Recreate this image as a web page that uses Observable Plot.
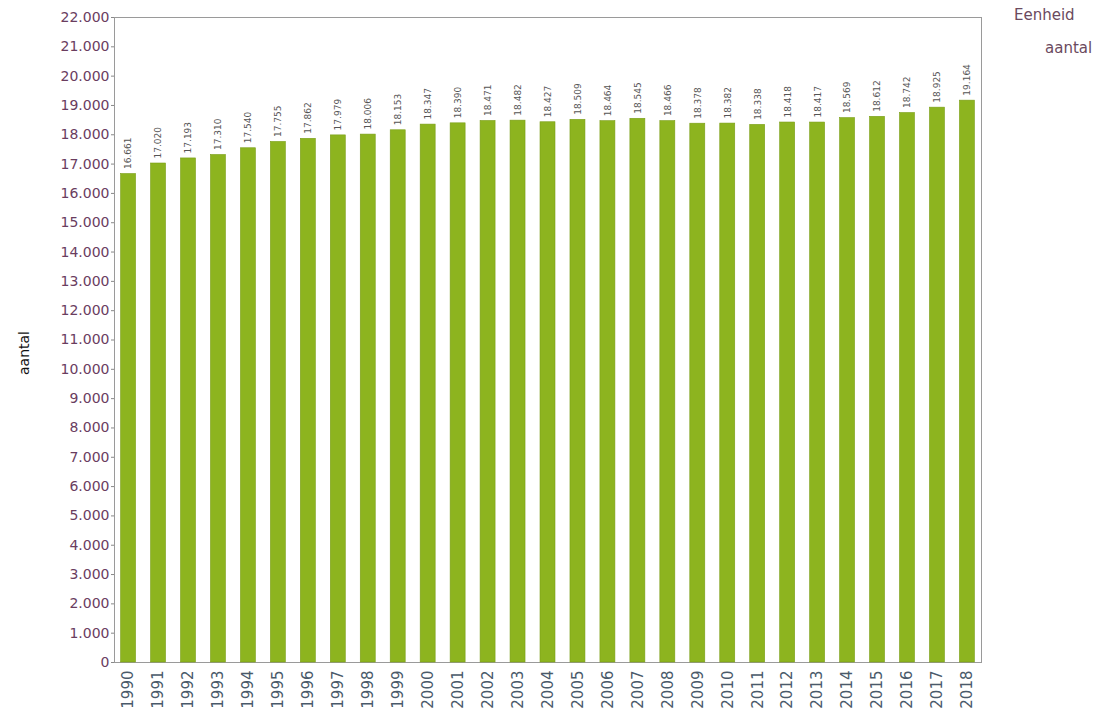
<!DOCTYPE html>
<html><head><meta charset="utf-8">
<script src="https://cdn.jsdelivr.net/npm/d3@7"></script>
<script src="https://cdn.jsdelivr.net/npm/@observablehq/plot@0.6"></script>
<style>
body{margin:0;background:#fff;font-family:"DejaVu Sans",Verdana,sans-serif;}
#wrap{position:relative;width:1100px;height:724px;}
.lab{position:absolute;color:#6b4a5e;font-size:15px;}
</style></head>
<body><div id="wrap"></div>
<script>
const years = ["1990","1991","1992","1993","1994","1995","1996","1997","1998","1999","2000","2001","2002","2003","2004","2005","2006","2007","2008","2009","2010","2011","2012","2013","2014","2015","2016","2017","2018"];
const values = [16661,17020,17193,17310,17540,17755,17862,17979,18006,18153,18347,18390,18471,18482,18427,18509,18464,18545,18466,18378,18382,18338,18418,18417,18569,18612,18742,18925,19164];
const yTicks = d3.range(0, 22001, 1000);

const data = years.map((y,i)=>({year:y, value:values[i]}));
const fmt = v => d3.format(",")(v).replace(/,/g,".");

const chart = Plot.plot({
  width: 1100, height: 724,
  marginLeft: 114, marginRight: 119, marginTop: 17, marginBottom: 62,
  style: {fontFamily: '"DejaVu Sans", Verdana, sans-serif', fontSize: "14px", background: "#fff"},
  x: {domain: years, paddingInner: 0.5, paddingOuter: 0.22, round: false, label: null},
  y: {domain: [0, 22000], label: null},
  marks: [
    Plot.frame({stroke: "#9a9a9a"}),
    Plot.barY(data, {x: "year", y: "value", fill: "#8db41f", stroke: "#7a9e16", strokeWidth: 0.6}),
    Plot.text(data, {x: "year", y: "value", text: d => fmt(d.value), rotate: -90, textAnchor: "start", dy: -5, fontSize: 9, fill: "#555"}),
    Plot.axisY({ticks: yTicks, tickFormat: fmt, tickSize: 3, tickPadding: 2, fill: "#6a3d5f", stroke: "#888", fontSize: 14}),
    Plot.axisX({tickRotate: -90, tickSize: 0, tickPadding: 8, fill: "#4a5a6a", fontSize: 15})
  ]
});
document.getElementById("wrap").appendChild(chart);
chart.style.position = "absolute"; chart.style.left = "0"; chart.style.top = "0";

const mk = (t, css) => { const d = document.createElement("div"); d.className = "lab"; d.textContent = t; Object.assign(d.style, css); document.getElementById("wrap").appendChild(d); };
mk("Eenheid", {left: "1014px", top: "6px"});
mk("aantal", {left: "1045px", top: "39px"});
mk("aantal", {left: "2px", top: "345px", transform: "rotate(-90deg)", transformOrigin: "center", color: "#111", fontSize: "14px"});
</script></body></html>
